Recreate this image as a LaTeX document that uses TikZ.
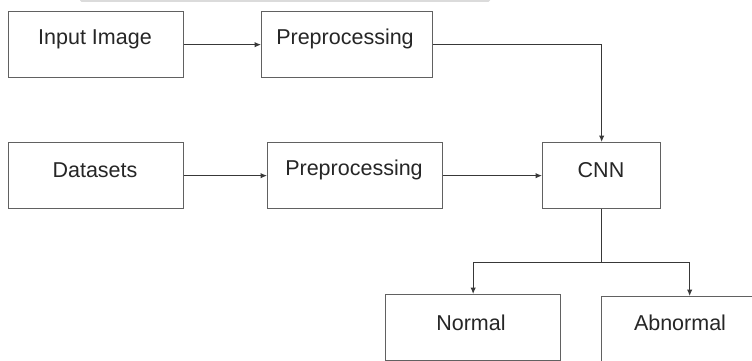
\documentclass[tikz,border=0pt]{standalone}
\usepackage{fontspec}
\setmainfont{Liberation Sans}
\usetikzlibrary{arrows.meta}
\begin{document}
\begin{tikzpicture}[x=1pt,y=-1pt,
  box/.style={draw=black!62,line width=1.3pt,fill=white,rectangle,inner sep=0pt,anchor=north west},
  lbl/.style={text=black!85,font=\fontsize{21.5}{24}\selectfont,inner sep=0pt},
  conn/.style={draw=black!78,line width=1pt},
  arr/.style={conn,-{Latex[length=6.5pt,width=5.5pt]}}]
\useasboundingbox (0,0) rectangle (752,361);
\clip (0,0) rectangle (752,361);
\fill[black!14,rounded corners=1.5pt] (80,-3) rectangle (490,1.8);
% boxes
\node[box,minimum width=175pt,minimum height=66pt] (in) at (8,11) {};
\node[box,minimum width=171pt,minimum height=66pt] (pre1) at (261,11) {};
\node[box,minimum width=175pt,minimum height=66pt] (ds) at (8,142) {};
\node[box,minimum width=175pt,minimum height=66pt] (pre2) at (267,142) {};
\node[box,minimum width=118pt,minimum height=66pt] (cnn) at (542,142) {};
\node[box,minimum width=175pt,minimum height=66pt] (normal) at (385,294) {};
\node[box,minimum width=176pt,minimum height=66pt] (abnormal) at (601,296) {};
% labels
\node[lbl] (tin) at (95,39) {Input Image};
\node[lbl] (tpre1) at (345,39) {Preprocessing};
\node[lbl] (tds) at (95,170) {Datasets};
\node[lbl] (tpre2) at (354,170) {Preprocessing};
\node[lbl] (tcnn) at (601,170) {CNN};
\node[lbl] (tnormal) at (471,323) {Normal};
\node[lbl] (tabnormal) at (680,323) {Abnormal};
% connectors
\coordinate (split) at (cnn.south |- 0,262);
\draw[arr] (in) -- (pre1);
\draw[arr] (ds) -- (pre2);
\draw[arr] (pre2) -- (cnn);
\draw[arr] (pre1.east) -| (cnn.north);
\draw[conn] (cnn.south) -- (split);
\draw[arr] (split) -| (normal.north);
\draw[arr] (split) -| (abnormal.north);
\end{tikzpicture}
\end{document}
